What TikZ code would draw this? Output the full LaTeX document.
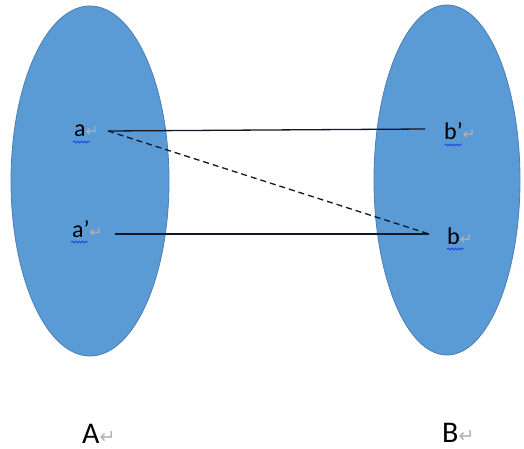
\documentclass[tikz,border=0pt]{standalone}
\usepackage{fontspec}
\setmainfont{Carlito}
\newfontfamily\symfont{DejaVu Sans}
\usetikzlibrary{decorations.pathmorphing}
\definecolor{setblue}{HTML}{5B9BD5}
\definecolor{setedge}{HTML}{4A7FB5}
\definecolor{wavyblue}{HTML}{2040E0}
\definecolor{linkcol}{HTML}{101828}
\newcommand\retmark[1]{{\symfont\color{gray!60}\fontsize{#1}{#1}\selectfont ↵}}
\begin{document}
\begin{tikzpicture}[x=1pt,y=-1pt,
  setshape/.style={fill=setblue,draw=setedge,line width=0.8pt},
  elem/.style={anchor=base west,inner sep=0pt,font=\fontsize{24}{28}\selectfont},
  setname/.style={anchor=base west,inner sep=0pt,font=\fontsize{30}{36}\selectfont},
  link/.style={line width=1.3pt,draw=linkcol},
  wavy/.style={draw=wavyblue,line width=0.8pt,decorate,decoration={snake,amplitude=1pt,segment length=3.5pt}}]
\useasboundingbox (0,0) rectangle (524,449);
\fill[white] (0,0) rectangle (524,449);
\draw[setshape] (90,181) ellipse [x radius=79,y radius=175];
\draw[setshape] (447,180) ellipse [x radius=73,y radius=175];
\node[elem] (a) at (74,137) {a\retmark{15}};
\node[elem] (a2) at (72,237) {a’\retmark{15}};
\node[elem] (b2) at (444,140) {b’\retmark{15}};
\node[elem] (b) at (447,244) {b\retmark{15}};
\node[setname] (A) at (82,443) {A\retmark{19}};
\node[setname] (B) at (442,442) {B\retmark{19}};
\draw[wavy] (73,142) -- (90,142);
\draw[wavy] (71,242) -- (88,242);
\draw[wavy] (445,145) -- (462,145);
\draw[wavy] (447,249) -- (464,249);
\coordinate (a-end) at (108,131);
\coordinate (b2-end) at (425,129);
\coordinate (a2-end) at (115,234);
\coordinate (b-end) at (429,234);
\draw[link] (a-end) -- (b2-end);
\draw[link,dash pattern=on 6pt off 4pt] (a-end) -- (b-end);
\draw[link] (a2-end) -- (b-end);
\end{tikzpicture}
\end{document}
